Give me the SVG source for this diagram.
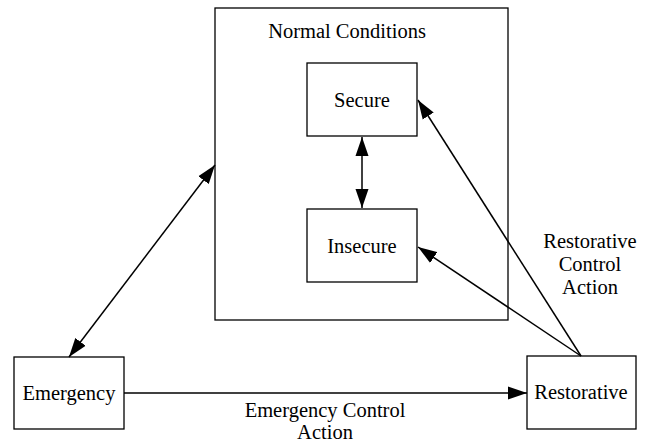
<svg xmlns="http://www.w3.org/2000/svg" width="647" height="443" viewBox="0 0 647 443">
<style>
.box{fill:#fff;stroke:#000;stroke-width:1.3}
.t{font-family:'Liberation Serif', 'Times New Roman', Times, serif;font-size:20.5px;fill:#000;text-anchor:middle}
.c{stroke:#000;stroke-width:1.5;fill:none}
</style>
<defs>
<marker id="ah" markerUnits="userSpaceOnUse" markerWidth="20" markerHeight="14" refX="19" refY="6.5" orient="auto-start-reverse" viewBox="0 0 20 13">
<path d="M0,0 L19,6.5 L0,13 Z" fill="#000"/>
</marker>
</defs>
<rect width="647" height="443" fill="#fff"/>
<g id="normal"><rect class="box" x="215" y="8" width="293" height="312"/><text class="t" x="347" y="38">Normal Conditions</text></g>
<g id="secure"><rect class="box" x="307" y="63" width="110" height="73"/><text class="t" x="362" y="107">Secure</text></g>
<g id="insecure"><rect class="box" x="307" y="209" width="110" height="73"/><text class="t" x="362" y="253">Insecure</text></g>
<g id="emergency"><rect class="box" x="14" y="357" width="110" height="72"/><text class="t" x="69" y="400">Emergency</text></g>
<g id="restorative"><rect class="box" x="527" y="356" width="109" height="73"/><text class="t" x="581" y="399">Restorative</text></g>
<g id="connectors">
<line class="c" x1="362" y1="137" x2="362" y2="208" marker-start="url(#ah)" marker-end="url(#ah)"/>
<line class="c" x1="69" y1="357" x2="215" y2="165" marker-start="url(#ah)" marker-end="url(#ah)"/>
<line class="c" x1="124" y1="393" x2="527" y2="393" marker-end="url(#ah)"/>
<line class="c" x1="581" y1="356" x2="418" y2="100" marker-end="url(#ah)"/>
<line class="c" x1="581" y1="356" x2="418" y2="247" marker-end="url(#ah)"/>
<text class="t" x="325" y="417">Emergency Control</text>
<text class="t" x="325" y="439">Action</text>
<text class="t" x="590" y="248">Restorative</text>
<text class="t" x="590" y="271">Control</text>
<text class="t" x="590" y="294">Action</text>
</g>
</svg>
